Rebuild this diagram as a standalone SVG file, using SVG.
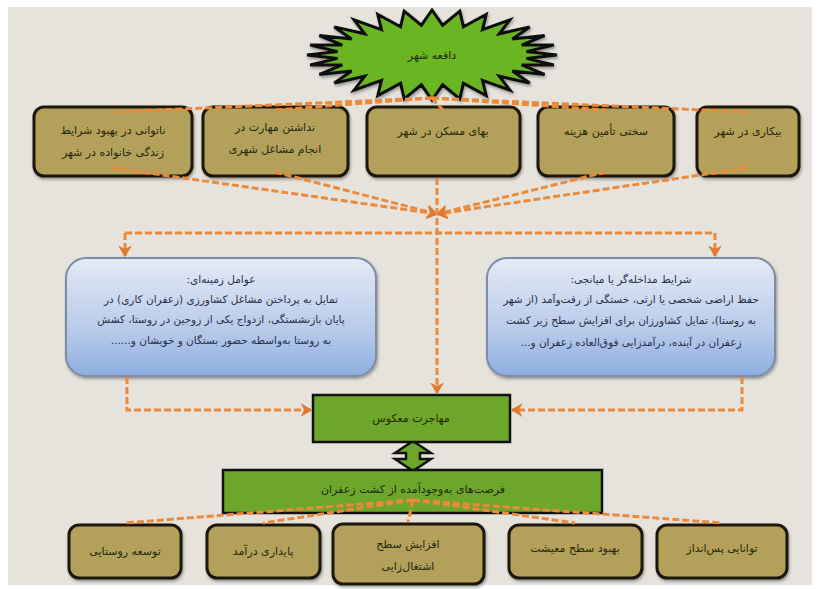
<svg xmlns="http://www.w3.org/2000/svg" width="820" height="589" viewBox="0 0 820 589">
<defs>
<linearGradient id="blueGrad" x1="0" y1="0" x2="0" y2="1">
<stop offset="0" stop-color="#e4eaf5"/>
<stop offset="0.6" stop-color="#b9cbea"/>
<stop offset="1" stop-color="#8eaee0"/>
</linearGradient>
<marker id="arr" markerUnits="userSpaceOnUse" markerWidth="14" markerHeight="14" refX="9" refY="6" orient="auto" viewBox="0 0 12 12">
<path d="M0,0 L10,6 L0,12 L3,6 z" fill="#e07a30"/>
</marker>
<filter id="sh" x="-5%" y="-5%" width="110%" height="120%">
<feDropShadow dx="1" dy="2" stdDeviation="1.5" flood-color="#000" flood-opacity="0.35"/>
</filter>
</defs>
<style>
.bg{fill:#e6e3dd}
.tan{fill:#b3a05a;stroke:#1e190c;stroke-width:3}
.green{fill:#6ca62b;stroke:#111;stroke-width:2.5}
.blue{fill:url(#blueGrad);stroke:#7d8ca4;stroke-width:2}
.t{font-family:"DejaVu Sans",sans-serif;font-size:11px;fill:#24280c;text-anchor:middle}
.tb{font-family:"DejaVu Sans",sans-serif;font-size:10.5px;fill:#26304a;text-anchor:middle}
.c{fill:none;stroke:#ec8a3c;stroke-width:3;stroke-dasharray:7 3}
</style>
<rect x="0" y="0" width="820" height="589" fill="#ffffff"/>
<rect class="bg" x="8" y="7" width="804" height="578"/>

<g id="node-city">
<polygon filter="url(#sh)" fill="#69b521" stroke="#111" stroke-width="3" points="557,55 526.4,58.4 553.9,65 521.7,64.9 544.6,74.5 512.4,71 529.7,83.1 499.2,76.2 509.9,90.2 482.5,80.4 486.2,95.5 463.4,83.3 459.8,98.9 442.6,84.8 432,100 421.4,84.8 404.2,98.9 400.6,83.3 377.8,95.5 381.5,80.4 354.1,90.2 364.8,76.2 334.3,83.1 351.6,71 319.4,74.5 342.3,64.9 310.1,65 337.6,58.4 307,55 337.6,51.6 310.1,45 342.3,45.1 319.4,35.5 351.6,39 334.3,26.9 364.8,33.8 354.1,19.8 381.5,29.6 377.8,14.5 400.6,26.7 404.2,11.1 421.4,25.2 432,10 442.6,25.2 459.8,11.1 463.4,26.7 486.2,14.5 482.5,29.6 509.9,19.8 499.2,33.8 529.7,26.9 512.4,39 544.6,35.5 521.7,45.1 553.9,45 526.4,51.6"/>
<text class="t" x="432" y="59" direction="rtl">دافعه شهر</text>
</g>

<g id="node-t1">
<rect class="tan" filter="url(#sh)" x="34" y="107" width="158" height="69" rx="10"/>
<text class="t" x="113" y="134" direction="rtl">ناتوانی در بهبود شرایط</text>
<text class="t" x="113" y="156" direction="rtl">زندگی خانواده در شهر</text>
</g>
<g id="node-t2">
<rect class="tan" filter="url(#sh)" x="203" y="107" width="145" height="69" rx="10"/>
<text class="t" x="275" y="131" direction="rtl">نداشتن مهارت در</text>
<text class="t" x="275" y="153" direction="rtl">انجام مشاغل شهری</text>
</g>
<g id="node-t3">
<rect class="tan" filter="url(#sh)" x="367" y="107" width="153" height="69" rx="10"/>
<text class="t" x="443" y="135" direction="rtl">بهای مسکن در شهر</text>
</g>
<g id="node-t4">
<rect class="tan" filter="url(#sh)" x="538" y="107" width="136" height="69" rx="10"/>
<text class="t" x="606" y="135" direction="rtl">سختی تأمین هزینه</text>
</g>
<g id="node-t5">
<rect class="tan" filter="url(#sh)" x="697" y="107" width="102" height="69" rx="10"/>
<text class="t" x="748" y="135" direction="rtl">بیکاری در شهر</text>
</g>

<g id="node-context">
<rect class="blue" filter="url(#sh)" x="66" y="258" width="310" height="118" rx="20"/>
<text class="tb" x="221" y="283" direction="rtl">عوامل زمینه‌ای:</text>
<text class="tb" x="221" y="303" direction="rtl">تمایل به پرداختن مشاغل کشاورزی (زعفران کاری) در</text>
<text class="tb" x="221" y="323" direction="rtl">پایان بازنشستگی، ازدواج یکی از زوجین در روستا، کشش</text>
<text class="tb" x="221" y="344" direction="rtl">به روستا به‌واسطه حضور بستگان و خویشان و......</text>
</g>
<g id="node-intervening">
<rect class="blue" filter="url(#sh)" x="487" y="258" width="288" height="118" rx="20"/>
<text class="tb" x="631" y="283" direction="rtl">شرایط مداخله‌گر یا میانجی:</text>
<text class="tb" x="631" y="303" direction="rtl">حفظ اراضی شخصی یا ارثی، خستگی از رفت‌وآمد (از شهر</text>
<text class="tb" x="631" y="324" direction="rtl">به روستا)، تمایل کشاورزان برای افزایش سطح زیر کشت</text>
<text class="tb" x="631" y="346" direction="rtl">زعفران در آینده، درآمدزایی فوق‌العاده زعفران و...</text>
</g>

<g id="node-link">
<polygon fill="#6ca62b" stroke="#111" stroke-width="2.5" points="413,441 431,453 420,453 420,459 431,459 413,471 395,459 406,459 406,453 395,453"/>
</g>
<g id="node-migration">
<rect class="green" x="313" y="395" width="197" height="47"/>
<text class="t" x="411" y="422" direction="rtl">مهاجرت معکوس</text>
</g>
<g id="node-opportunities">
<rect class="green" x="223" y="470" width="379" height="43"/>
<text class="t" x="413" y="493" direction="rtl">فرصت‌های به‌وجودآمده از کشت زعفران</text>
</g>

<g id="node-b1">
<rect class="tan" filter="url(#sh)" x="69" y="525" width="112" height="53" rx="10"/>
<text class="t" x="125" y="555" direction="rtl">توسعه روستایی</text>
</g>
<g id="node-b2">
<rect class="tan" filter="url(#sh)" x="207" y="525" width="113" height="53" rx="10"/>
<text class="t" x="263" y="555" direction="rtl">پایداری درآمد</text>
</g>
<g id="node-b3">
<rect class="tan" filter="url(#sh)" x="333" y="524" width="151" height="60" rx="10"/>
<text class="t" x="408" y="548" direction="rtl">افزایش سطح</text>
<text class="t" x="408" y="570" direction="rtl">اشتغال‌زایی</text>
</g>
<g id="node-b4">
<rect class="tan" filter="url(#sh)" x="509" y="525" width="133" height="53" rx="10"/>
<text class="t" x="575" y="552" direction="rtl">بهبود سطح معیشت</text>
</g>
<g id="node-b5">
<rect class="tan" filter="url(#sh)" x="657" y="525" width="130" height="53" rx="10"/>
<text class="t" x="722" y="552" direction="rtl">توانایی پس‌انداز</text>
</g>

<g id="connectors">
<path class="c" d="M432,98 L113,112"/>
<path class="c" d="M432,98 L275,110"/>
<path class="c" d="M432,98 L443,110"/>
<path class="c" d="M432,98 L606,110"/>
<path class="c" d="M432,98 L748,112"/>
<path class="c" d="M113,168 L437,214" marker-end="url(#arr)"/>
<path class="c" d="M275,172 L437,214" marker-end="url(#arr)"/>
<path class="c" d="M606,172 L437,214" marker-end="url(#arr)"/>
<path class="c" d="M748,168 L437,214" marker-end="url(#arr)"/>
<path class="c" d="M437,178 L437,393" marker-end="url(#arr)"/>
<path class="c" d="M125,233 L715,233"/>
<path class="c" d="M125,233 L125,256" marker-end="url(#arr)"/>
<path class="c" d="M715,233 L715,256" marker-end="url(#arr)"/>
<path class="c" d="M127,377 L127,410 L311,410" marker-end="url(#arr)"/>
<path class="c" d="M742,377 L742,410 L512,410" marker-end="url(#arr)"/>
<path class="c" d="M413,500 L125,523"/>
<path class="c" d="M413,500 L263,523"/>
<path class="c" d="M413,500 L408,522"/>
<path class="c" d="M413,500 L575,523"/>
<path class="c" d="M413,500 L722,523"/>
</g>
</svg>
